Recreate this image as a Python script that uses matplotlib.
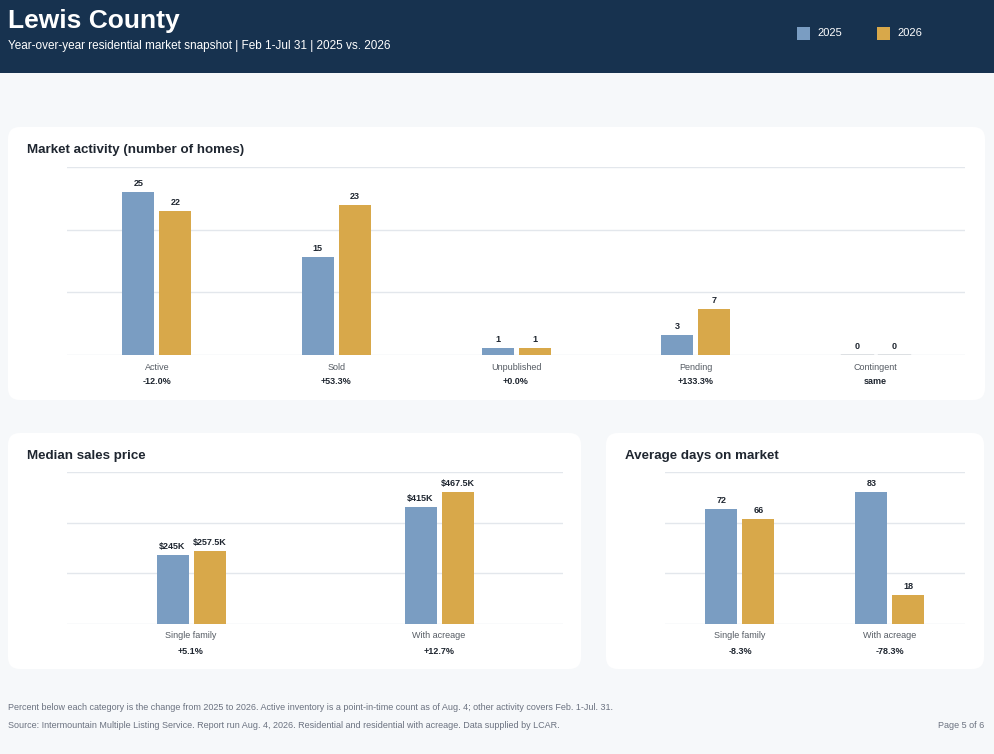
import matplotlib
matplotlib.use('Agg')
import matplotlib.pyplot as plt
from matplotlib.patches import FancyBboxPatch, Rectangle
import numpy as np

W, H = 995, 754
BLUE = '#7a9dc2'
GOLD = '#d8a84a'
NAVY = '#17324f'
GRID = '#e3e7ec'
PX = 72 / 100  # points per pixel

activity_cats = ['Active', 'Sold', 'Unpublished', 'Pending', 'Contingent']
activity_2025 = [25, 15, 1, 3, 0]
activity_2026 = [22, 23, 1, 7, 0]
activity_chg = ['-12.0%', '+53.3%', '+0.0%', '+133.3%', 'same']

price_cats = ['Single family', 'With acreage']
price_2025 = [245, 415]
price_2026 = [257.5, 467.5]
price_chg = ['+5.1%', '+12.7%']

dom_cats = ['Single family', 'With acreage']
dom_2025 = [72, 83]
dom_2026 = [66, 18]
dom_chg = ['-8.3%', '-78.3%']

plt.rcParams['font.family'] = ['Liberation Sans', 'DejaVu Sans']

fig = plt.figure(figsize=(W / 100, H / 100), dpi=100)
fig.patch.set_facecolor('#f6f8fa')
bg = fig.add_axes([0, 0, 1, 1])
bg.set_xlim(0, W)
bg.set_ylim(H, 0)
bg.axis('off')

# header
bg.add_patch(Rectangle((0, 0), W, 73, color=NAVY, lw=0))
bg.text(8, 21, 'Lewis County', color='white', fontsize=19, fontweight='bold', va='center')
bg.text(8, 46, 'Year-over-year residential market snapshot | Feb 1-Jul 31 | 2025 vs. 2026',
        color='white', fontsize=8.5, va='center')
for x, c, lab in [(797, BLUE, '2025'), (877, GOLD, '2026')]:
    bg.add_patch(Rectangle((x, 27), 13, 13, color=c, lw=0))
    bg.text(x + 20, 33.5, lab, color='white', fontsize=8, va='center')

# cards
for x0, y0, x1, y1, title in [(8, 127, 985, 400, 'Market activity (number of homes)'),
                              (8, 433, 581, 669, 'Median sales price'),
                              (606, 433, 984, 669, 'Average days on market')]:
    bg.add_patch(FancyBboxPatch((x0, y0), x1 - x0, y1 - y0,
                                boxstyle='round,pad=0,rounding_size=12',
                                fc='white', ec='none'))
    bg.text(x0 + 19, y0 + 23, title, fontsize=9.6, fontweight='bold', color='#1f2630', va='center')

bg.text(8, 707, 'Percent below each category is the change from 2025 to 2026. Active inventory is a '
        'point-in-time count as of Aug. 4; other activity covers Feb. 1-Jul. 31.',
        fontsize=6.5, color='#6b7280', va='center')
bg.text(8, 726, 'Source: Intermountain Multiple Listing Service. Report run Aug. 4, 2026. Residential '
        'and residential with acreage. Data supplied by LCAR.',
        fontsize=6.5, color='#6b7280', va='center')
bg.text(984, 726, 'Page 5 of 6', fontsize=6.5, color='#6b7280', va='center', ha='right')


def panel(x0, x1, ytop, ybase, cats, a, b, chg, fmt):
    ax = fig.add_axes([x0 / W, 1 - ybase / H, (x1 - x0) / W, (ybase - ytop) / H])
    ax.set_facecolor('none')
    n = len(cats)
    pos = np.arange(n)
    bw = 32 / ((x1 - x0) / n)
    gap = 5 / ((x1 - x0) / n)
    ymax = max(max(a), max(b)) * 1.15
    ax.set_xlim(-0.5, n - 0.5)
    ax.set_ylim(0, ymax)
    for g in np.linspace(0, ymax, 4):
        ax.axhline(g, color=GRID, lw=1, zorder=0)
    for vals, off, col in [(a, -(bw + gap) / 2, BLUE), (b, (bw + gap) / 2, GOLD)]:
        ax.bar(pos + off, vals, bw, color=col, zorder=2)
        for i, v in enumerate(vals):
            xx = pos[i] + off
            if v == 0:
                ax.plot([xx - bw / 2, xx + bw / 2], [0, 0], color='#6b7683', lw=1, zorder=3)
            ax.annotate(fmt(v), (xx, v), xytext=(0, 4 * PX), textcoords='offset points',
                        ha='center', va='bottom', fontsize=6.5, fontweight='bold', color='#1f2630')
    for i in range(n):
        ax.annotate(cats[i], (pos[i], 0), xytext=(0, -12 * PX), textcoords='offset points',
                    ha='center', va='center', fontsize=6.5, color='#555b63', annotation_clip=False)
        ax.annotate(chg[i], (pos[i], 0), xytext=(0, -27 * PX), textcoords='offset points',
                    ha='center', va='center', fontsize=6.5, fontweight='bold', color='#1f2630',
                    annotation_clip=False)
    ax.axis('off')
    return ax


panel(67, 965, 167, 355, activity_cats, activity_2025, activity_2026, activity_chg, lambda v: f'{v:g}')
panel(67, 563, 472, 624, price_cats, price_2025, price_2026, price_chg, lambda v: f'${v:g}K')
panel(665, 965, 472, 624, dom_cats, dom_2025, dom_2026, dom_chg, lambda v: f'{v:g}')

fig.savefig('out.png', dpi=100, facecolor=fig.get_facecolor())
